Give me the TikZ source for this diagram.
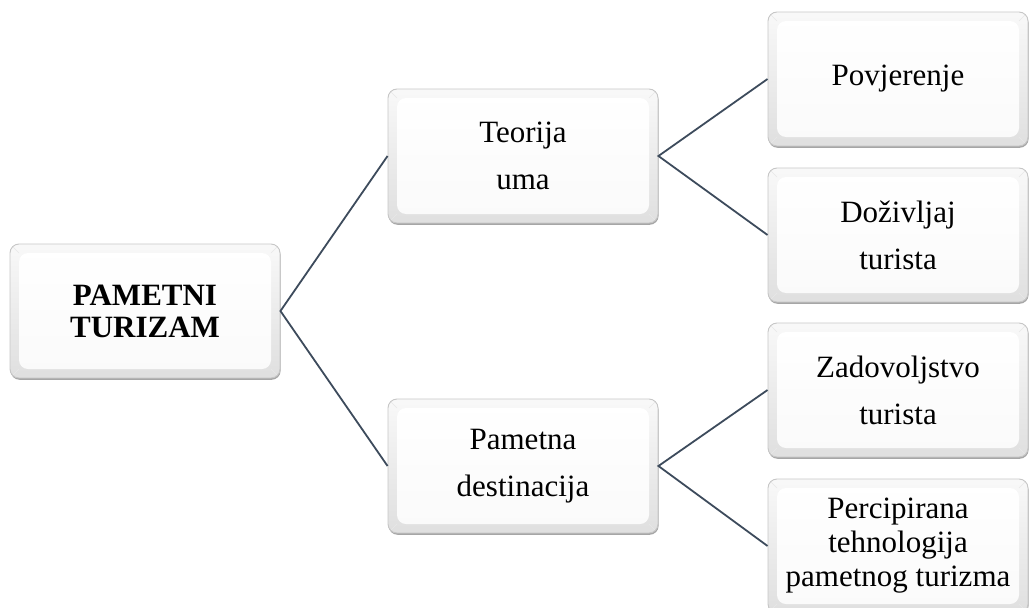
\documentclass[tikz,border=0pt]{standalone}
\usepackage{fontspec}
\setmainfont{Liberation Serif}
\usetikzlibrary{shadows}
\definecolor{linkc}{HTML}{3D4B5C}
\tikzset{
  bevelbox/.style={rectangle, rounded corners=9pt, inner sep=2pt,
    minimum width=270pt, minimum height=134pt,
    draw=gray!45, line width=0.9pt,
    top color=gray!5, bottom color=gray!25,
    drop shadow={shadow xshift=0.6pt, shadow yshift=-1.8pt, fill=black, opacity=0.35},
    path picture={
      \shade[top color=white, bottom color=gray!4]
        ([shift={(9pt,-9pt)}]path picture bounding box.north west) rectangle
        ([shift={(-9pt,9pt)}]path picture bounding box.south east);
      \draw[gray!18, line width=0.6pt]
        ([shift={(3pt,-3pt)}]path picture bounding box.north west) -- ([shift={(9pt,-9pt)}]path picture bounding box.north west)
        ([shift={(-3pt,-3pt)}]path picture bounding box.north east) -- ([shift={(-9pt,-9pt)}]path picture bounding box.north east)
        ([shift={(3pt,3pt)}]path picture bounding box.south west) -- ([shift={(9pt,9pt)}]path picture bounding box.south west)
        ([shift={(-3pt,3pt)}]path picture bounding box.south east) -- ([shift={(-9pt,9pt)}]path picture bounding box.south east);
    },
    align=center, text=black, font=\fontsize{31}{47}\selectfont},
  rightbox/.style={bevelbox, minimum width=260pt},
  tightbox/.style={font=\fontsize{31}{34}\selectfont},
  rootbox/.style={font=\bfseries\fontsize{31}{32}\selectfont},
  link/.style={draw=linkc, line width=1.8pt}
}
\begin{document}
\begin{tikzpicture}[x=1pt,y=-1pt]
\useasboundingbox (0,0) rectangle (1029,608);
\clip (0,0) rectangle (1029,608);
\node[bevelbox, rootbox] (root) at (145,311) {PAMETNI\\TURIZAM};
\node[bevelbox] (teo) at (523,156) {Teorija\\uma};
\node[bevelbox] (pam) at (523,466) {Pametna\\destinacija};
\node[rightbox] (pov) at (898,79) {Povjerenje};
\node[rightbox] (doz) at (898,235) {Doživljaj\\turista};
\node[rightbox] (zad) at (898,390) {Zadovoljstvo\\turista};
\node[rightbox, tightbox] (per) at (898,546) {Percipirana\\tehnologija\\pametnog turizma};
\draw[link] (teo.west) -- (root.east) -- (pam.west);
\draw[link] (pov.west) -- (teo.east) -- (doz.west);
\draw[link] (zad.west) -- (pam.east) -- (per.west);
\end{tikzpicture}
\end{document}
